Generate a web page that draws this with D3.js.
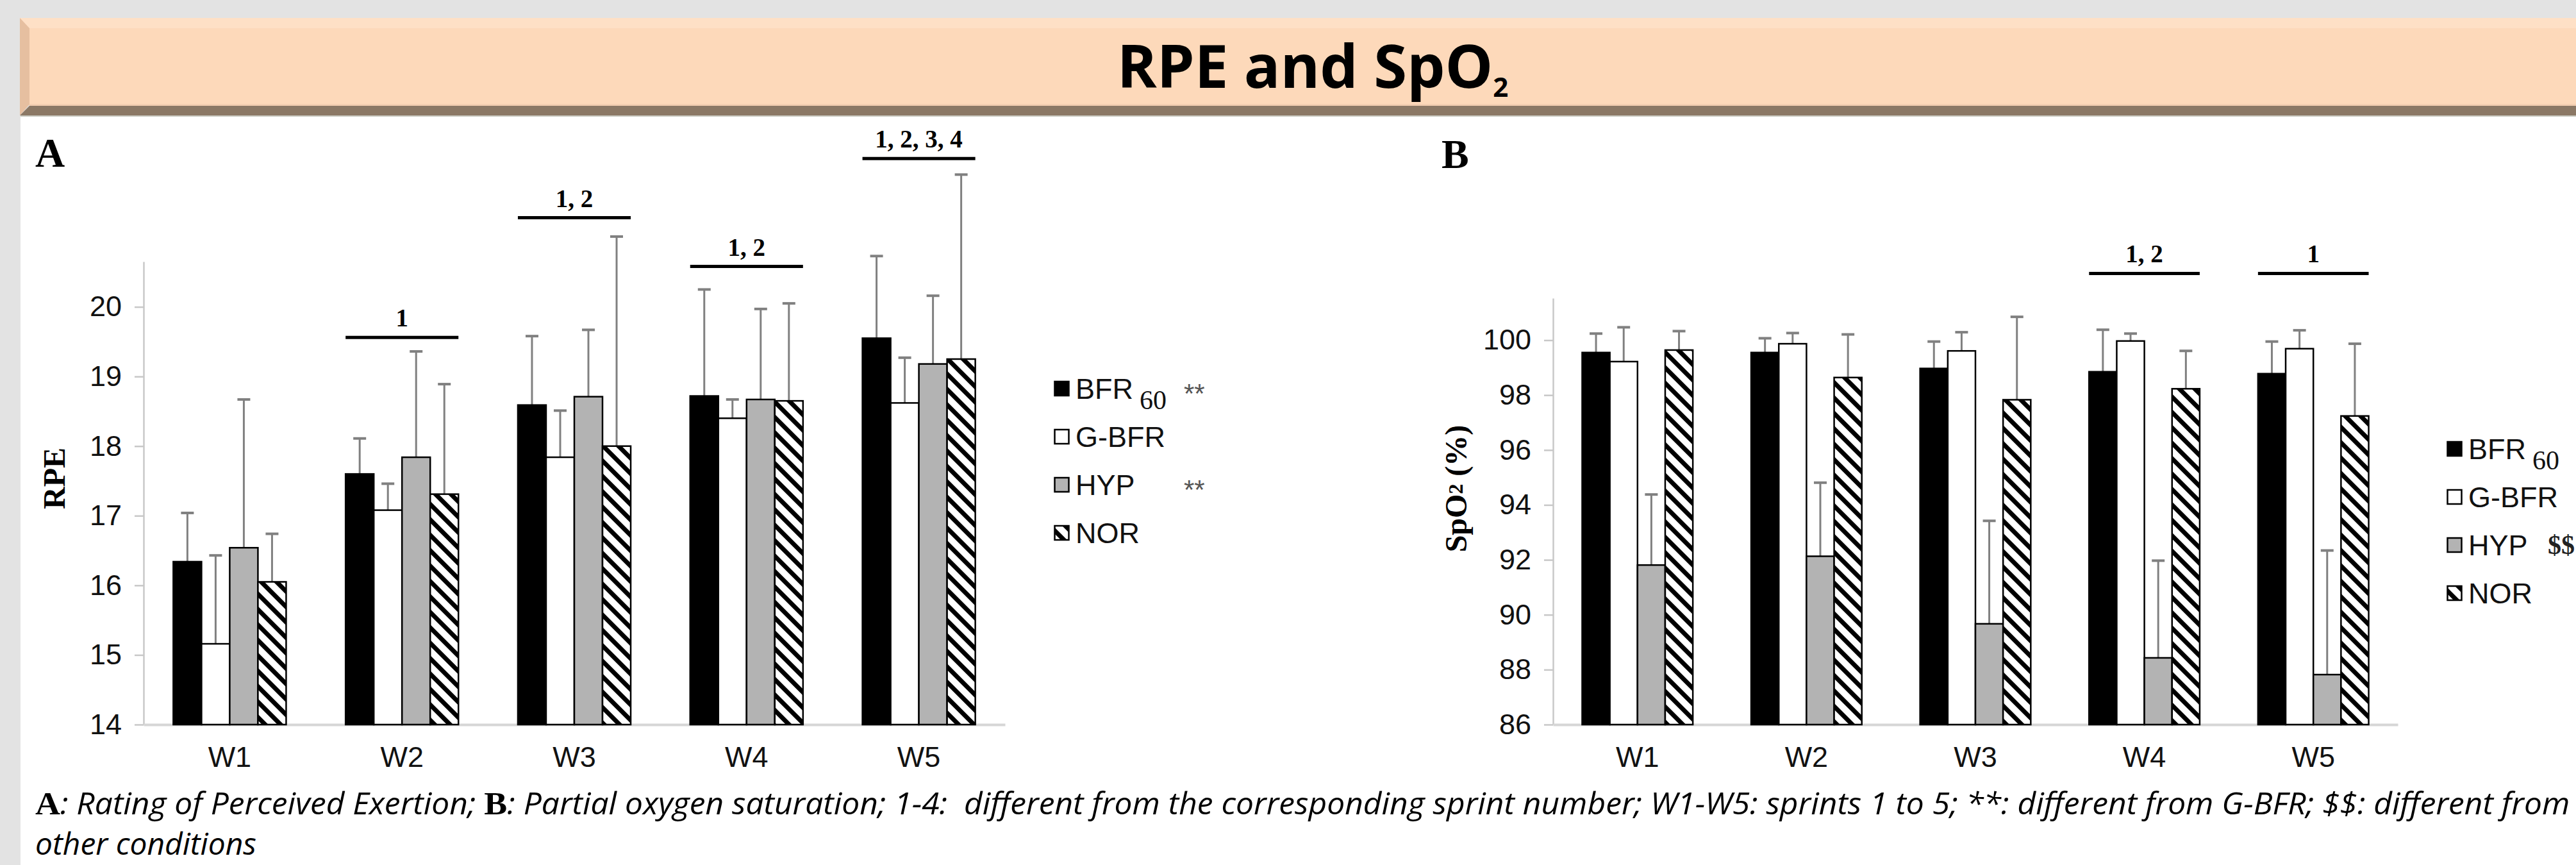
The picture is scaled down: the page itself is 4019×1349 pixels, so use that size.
<!DOCTYPE html>
<html>
<head>
<meta charset="utf-8">
<script src="https://cdn.jsdelivr.net/npm/d3@7"></script>
<style>
  body { margin: 0; background: #e3e3e3; }
  svg { display: block; }
</style>
</head>
<body>
<svg></svg>
<script>
// RPE and SpO2 bar charts, sprints W1-W5, four conditions

const weeks = ["W1", "W2", "W3", "W4", "W5"];
const conditions = ["BFR60", "G-BFR", "HYP", "NOR"];

// panel A : RPE (mean and SD)
const rpeBFR60 = [16.34, 17.6, 18.59, 18.72, 19.55];
const rpeGBFR = [15.16, 17.08, 17.84, 18.4, 18.62];
const rpeHYP = [16.54, 17.84, 18.71, 18.67, 19.18];
const rpeNOR = [16.05, 17.31, 18.0, 18.65, 19.25];
const rpeBFR60Sd = [0.7, 0.51, 0.99, 1.53, 1.18];
const rpeGBFRSd = [1.27, 0.38, 0.67, 0.27, 0.65];
const rpeHYPSd = [2.13, 1.52, 0.96, 1.3, 0.98];
const rpeNORSd = [0.69, 1.58, 3.01, 1.4, 2.65];
const rpeTicks = [14, 15, 16, 17, 18, 19, 20];
const rpeSig = [
  { week: "W2", label: "1", level: 19.56 },
  { week: "W3", label: "1, 2", level: 21.28 },
  { week: "W4", label: "1, 2", level: 20.58 },
  { week: "W5", label: "1, 2, 3, 4", level: 22.13 },
];
const rpeLegendMarks = ["**", "", "**", ""];

// panel B : SpO2 (mean and SD)
const spoBFR60 = [99.55, 99.55, 98.97, 98.85, 98.78];
const spoGBFR = [99.22, 99.87, 99.61, 99.97, 99.69];
const spoHYP = [91.81, 92.13, 89.67, 88.43, 87.82];
const spoNOR = [99.64, 98.64, 97.83, 98.23, 97.24];
const spoBFR60Sd = [0.69, 0.52, 0.98, 1.53, 1.17];
const spoGBFRSd = [1.25, 0.39, 0.68, 0.27, 0.67];
const spoHYPSd = [2.57, 2.68, 3.75, 3.54, 4.52];
const spoNORSd = [0.69, 1.57, 3.02, 1.38, 2.63];
const spoTicks = [86, 88, 90, 92, 94, 96, 98, 100];
const spoSig = [
  { week: "W4", label: "1, 2", level: 102.43 },
  { week: "W5", label: "1", level: 102.43 },
];
const spoLegendMarks = ["", "", "$$", ""];

const captionLine1 = [
  { t: "A", bold: true },
  { t: ": Rating of Perceived Exertion; " },
  { t: "B", bold: true },
  { t: ": Partial oxygen saturation; 1-4:\u00a0 different from the corresponding sprint number; W1-W5: sprints 1 to 5; **: different from G-BFR; $$: different from" },
];
const captionLine2 = "other conditions";

const fills = { BFR60: "#000", "G-BFR": "#fff", HYP: "#b3b3b3", NOR: "url(#hatch)" };

const width = 4019;
const height = 1349;

const svg = d3.select("svg").attr("width", width).attr("height", height);

const defs = svg.append("defs");
const hatch = defs
  .append("pattern")
  .attr("id", "hatch")
  .attr("patternUnits", "userSpaceOnUse")
  .attr("width", 17)
  .attr("height", 17)
  .attr("patternTransform", "rotate(-45)");
hatch.append("rect").attr("width", 17).attr("height", 17).attr("fill", "#fff");
hatch.append("rect").attr("width", 7).attr("height", 17).attr("fill", "#000");

// ---- background and banner ----
svg.append("rect").attr("width", width).attr("height", height).attr("fill", "#e3e3e3");
svg.append("rect").attr("x", 32).attr("y", 181).attr("width", width - 32).attr("height", height - 181).attr("fill", "#fff");
svg.append("rect").attr("x", 32).attr("y", 180).attr("width", width - 32).attr("height", 2).attr("fill", "#c9c9c0");

svg.append("rect").attr("x", 31).attr("y", 28).attr("width", width - 31).attr("height", 136).attr("fill", "#fdd9ba");
svg.append("rect").attr("x", 31).attr("y", 28).attr("width", width - 31).attr("height", 16).attr("fill", "#fee0c6");
svg.append("polygon").attr("points", "31,28 46,44 46,163 31,180").attr("fill", "#e6bfa0");
svg.append("rect").attr("x", 46).attr("y", 162).attr("width", width - 46).attr("height", 3).attr("fill", "#f3cfb2");
svg.append("polygon").attr("points", `46,165 ${width},165 ${width},180 31,180`).attr("fill", "#8b7865");

const title = svg
  .append("text")
  .attr("x", 2048)
  .attr("y", 137)
  .attr("text-anchor", "middle")
  .attr("font-family", "'Open Sans', sans-serif")
  .attr("font-weight", 700)
  .attr("font-size", 94);
title.append("tspan").text("RPE and SpO");
title.append("tspan").attr("font-size", 42).attr("dy", 14).text("2");

// ---- panels ----
const panels = [
  {
    letter: "A", letterX: 55, letterY: 260,
    series: [rpeBFR60, rpeGBFR, rpeHYP, rpeNOR],
    sds: [rpeBFR60Sd, rpeGBFRSd, rpeHYPSd, rpeNORSd],
    domain: [14, 20.65], ticks: rpeTicks, sig: rpeSig,
    x0: 224, x1: 1568, yBottom: 1130, yTop: 408,
    ylabel: ["RPE"], ylabelX: 84, ylabelY: 746,
    legendX: 1644, legendY: 606, markX: 1847, marks: rpeLegendMarks,
  },
  {
    letter: "B", letterX: 2249, letterY: 262,
    series: [spoBFR60, spoGBFR, spoHYP, spoNOR],
    sds: [spoBFR60Sd, spoGBFRSd, spoHYPSd, spoNORSd],
    domain: [86, 101.53], ticks: spoTicks, sig: spoSig,
    x0: 2423, x1: 3741, yBottom: 1130, yTop: 465,
    ylabel: ["SpO", "2", " (%)"], ylabelX: 2271, ylabelY: 762,
    legendX: 3817, legendY: 700, markX: 3975, marks: spoLegendMarks,
  },
];

const drawPanel = (p) => {
  const g = svg.append("g");

  const x = d3.scaleBand().domain(weeks).range([p.x0, p.x1]);
  const bw = x.bandwidth();
  const xc = d3
    .scaleBand()
    .domain(conditions)
    .range([bw * 0.1725, bw * 0.8275]);
  const y = d3.scaleLinear().domain(p.domain).range([p.yBottom, p.yTop]);

  // panel letter
  g.append("text")
    .attr("x", p.letterX)
    .attr("y", p.letterY)
    .attr("font-family", "'Liberation Serif', 'Times New Roman', serif")
    .attr("font-weight", 700)
    .attr("font-size", 64)
    .text(p.letter);

  // y axis
  const yAxis = g
    .append("g")
    .attr("transform", `translate(${p.x0},0)`)
    .call(
      d3
        .axisLeft(y)
        .tickValues(p.ticks)
        .tickFormat(d3.format("d"))
        .tickSize(14)
        .tickSizeOuter(0)
        .tickPadding(20)
    );
  yAxis.select(".domain").attr("stroke", "#c8c8c8").attr("stroke-width", 2.5);
  yAxis.selectAll(".tick line").attr("stroke", "#c8c8c8").attr("stroke-width", 2.5);
  yAxis
    .selectAll(".tick text")
    .attr("font-family", "'Liberation Sans', Arial, sans-serif")
    .attr("font-size", 45)
    .attr("fill", "#111");

  // x axis
  const xAxis = g
    .append("g")
    .attr("transform", `translate(0,${p.yBottom})`)
    .call(d3.axisBottom(x).tickSize(0).tickPadding(34));
  xAxis.select(".domain").attr("stroke", "#d6d6d6").attr("stroke-width", 4);
  xAxis
    .selectAll(".tick text")
    .attr("font-family", "'Liberation Sans', Arial, sans-serif")
    .attr("font-size", 45)
    .attr("fill", "#111");

  // y label
  const yl = g
    .append("text")
    .attr("transform", `translate(${p.ylabelX},${p.ylabelY}) rotate(-90)`)
    .attr("text-anchor", "middle")
    .attr("dominant-baseline", "central")
    .attr("font-family", "'Liberation Serif', 'Times New Roman', serif")
    .attr("font-weight", 700)
    .attr("font-size", 48);
  yl.append("tspan").text(p.ylabel[0]);
  if (p.ylabel.length > 1) {
    yl.append("tspan").attr("font-size", 32).text(p.ylabel[1]);
    yl.append("tspan").text(p.ylabel[2]);
  }

  // bars
  conditions.forEach((c, ci) => {
    const vals = p.series[ci];
    const sds = p.sds[ci];
    const cg = g.append("g");

    cg.selectAll("line.err")
      .data(weeks)
      .enter()
      .append("line")
      .attr("class", "err")
      .attr("x1", (w) => x(w) + xc(c) + xc.bandwidth() / 2)
      .attr("x2", (w) => x(w) + xc(c) + xc.bandwidth() / 2)
      .attr("y1", (w, i) => y(vals[i]))
      .attr("y2", (w, i) => y(vals[i] + sds[i]))
      .attr("stroke", "#808080")
      .attr("stroke-width", 3);

    cg.selectAll("line.cap")
      .data(weeks)
      .enter()
      .append("line")
      .attr("class", "cap")
      .attr("x1", (w) => x(w) + xc(c) + xc.bandwidth() / 2 - 10)
      .attr("x2", (w) => x(w) + xc(c) + xc.bandwidth() / 2 + 10)
      .attr("y1", (w, i) => y(vals[i] + sds[i]))
      .attr("y2", (w, i) => y(vals[i] + sds[i]))
      .attr("stroke", "#808080")
      .attr("stroke-width", 4);

    cg.selectAll("rect")
      .data(weeks)
      .enter()
      .append("rect")
      .attr("x", (w) => x(w) + xc(c))
      .attr("y", (w, i) => y(vals[i]))
      .attr("width", xc.bandwidth())
      .attr("height", (w, i) => p.yBottom - y(vals[i]))
      .attr("fill", fills[c])
      .attr("stroke", "#000")
      .attr("stroke-width", 2.5);
  });

  // significance bars
  const sg = g.selectAll("g.sig").data(p.sig).enter().append("g").attr("class", "sig");
  sg.append("line")
    .attr("x1", (d) => x(d.week) + xc.range()[0])
    .attr("x2", (d) => x(d.week) + xc.range()[1])
    .attr("y1", (d) => y(d.level))
    .attr("y2", (d) => y(d.level))
    .attr("stroke", "#000")
    .attr("stroke-width", 5);
  sg.append("text")
    .attr("x", (d) => x(d.week) + bw / 2)
    .attr("y", (d) => y(d.level) - 17)
    .attr("text-anchor", "middle")
    .attr("font-family", "'Liberation Serif', 'Times New Roman', serif")
    .attr("font-weight", 700)
    .attr("font-size", 39)
    .text((d) => d.label);

  // legend
  const lg = g
    .selectAll("g.legend")
    .data(conditions)
    .enter()
    .append("g")
    .attr("class", "legend")
    .attr("transform", (d, i) => `translate(${p.legendX},${p.legendY + i * 75})`);
  lg.append("rect")
    .attr("x", 1.5)
    .attr("y", -11)
    .attr("width", 22)
    .attr("height", 22)
    .attr("fill", (d) => fills[d])
    .attr("stroke", "#000")
    .attr("stroke-width", 2.5);
  const lt = lg
    .append("text")
    .attr("x", 34)
    .attr("y", 16)
    .attr("font-family", "'Liberation Sans', Arial, sans-serif")
    .attr("font-size", 45)
    .attr("fill", "#111");
  lt.append("tspan").text((d) => (d === "BFR60" ? "BFR" : d));
  lt.filter((d) => d === "BFR60")
    .append("tspan")
    .attr("dx", 10)
    .attr("dy", 16)
    .attr("font-family", "'Liberation Serif', 'Times New Roman', serif")
    .attr("font-size", 42)
    .text("60");
  lg.append("text")
    .attr("x", p.markX - p.legendX)
    .attr("y", (d, i) => (p.marks[i] === "$$" ? 14 : 22))
    .attr("font-family", (d, i) =>
      p.marks[i] === "$$" ? "'Liberation Serif', serif" : "'Liberation Sans', Arial, sans-serif"
    )
    .attr("font-weight", (d, i) => (p.marks[i] === "$$" ? 700 : 400))
    .attr("font-size", 42)
    .attr("fill", (d, i) => (p.marks[i] === "$$" ? "#222" : "#555"))
    .text((d, i) => p.marks[i]);
};

panels.forEach(drawPanel);

// ---- caption (scaled horizontally to the width the original takes) ----
const fitText = (sel, x, y, target) => {
  const w = sel.node().getComputedTextLength();
  const k = target / w;
  sel.attr("transform", `translate(${x},${y}) scale(${k},1)`);
};

const cap1 = svg
  .append("text")
  .attr("font-family", "'Open Sans', sans-serif")
  .attr("font-style", "italic")
  .attr("font-size", 47);
captionLine1.forEach((part) => {
  const ts = cap1.append("tspan").text(part.t);
  if (part.bold) {
    ts.attr("font-family", "'Liberation Serif', serif")
      .attr("font-style", "normal")
      .attr("font-weight", 700)
      .attr("font-size", 51);
  }
});
fitText(cap1, 55, 1270, 3955);

const cap2 = svg
  .append("text")
  .attr("font-family", "'Open Sans', sans-serif")
  .attr("font-style", "italic")
  .attr("font-size", 47)
  .text(captionLine2);
fitText(cap2, 55, 1333, 345);
</script>
</body>
</html>
